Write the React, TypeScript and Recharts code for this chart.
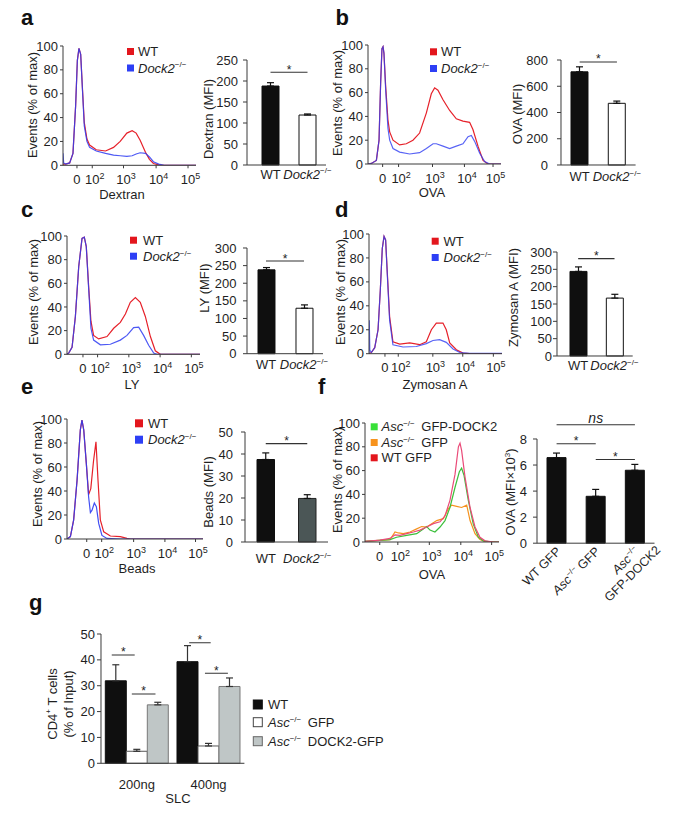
import React from 'react';
import { LineChart, Line, XAxis, YAxis, BarChart, Bar, ErrorBar, ReferenceLine, ReferenceDot, Cell } from 'recharts';

type Part = { t: string; i?: boolean; sup?: boolean };
type Plot = { x0: number; y0: number; x1: number; y1: number };

const FONT = '"Liberation Sans", Arial, Helvetica, sans-serif';
const INK = '#1f1f1f';
const AXIS = '#3a3a3a';

// ---------------- text fragments ----------------
const WT_P: Part[] = [{ t: 'WT' }];
const DOCK2_P: Part[] = [{ t: 'Dock2', i: true }, { t: '\u2212/\u2212', sup: true }];
const ASC_P: Part[] = [{ t: 'Asc', i: true }, { t: '\u2212/\u2212', sup: true }];

// ---------------- histogram data (x = position along biexponential axis, 0-100) ----------------
const logTickLabels = ['0', '10^2', '10^3', '10^4', '10^5'];
const eventTicks = [0, 20, 40, 60, 80, 100];

// (a) Dextran
const dextranTicks = [10.5, 22, 45.5, 70, 94];
const dextranChannel = [0, 0.5, 2, 5, 7.5, 9.5, 10.8, 12, 13.3, 14.5, 16, 18, 20, 25, 32, 38, 43, 48, 52, 55, 58, 62, 65, 68, 72, 76, 100];
const dextranWT = [1, 1, 1, 2, 10, 50, 88, 98, 93, 67, 36, 22, 17, 13, 12, 15, 20, 27, 29, 27, 21, 11, 5, 1.5, 0.3, 0, 0];
const dextranKO = [10, 2, 1, 2, 10, 50, 88, 98, 93, 66, 33, 20, 15, 12, 10, 8.5, 8, 7.5, 8, 9.5, 10.5, 10, 7, 3, 1, 0, 0];

// (b) OVA
const ovaTicks = [11, 23, 48.5, 72.5, 94];
const ovaWTX = [0, 2.5, 6.3, 8.3, 9.5, 10.5, 11.3, 12, 13.3, 15, 16.3, 18.8, 23.8, 28.8, 33.8, 38.8, 43.9, 47.6, 50.1, 52.6, 56.4, 61.4, 66.4, 71.4, 76.4, 78.9, 82.7, 86.5, 90.2, 100];
const ovaWTY = [0, 0.5, 3, 20, 68, 97, 98.6, 93, 65, 37, 27, 20, 16, 17, 20, 26, 43, 59, 64, 62, 54, 45, 38, 36, 35, 29, 15, 3, 0, 0];
const ovaKOX = [0, 2.5, 6.3, 8.3, 9.5, 10.5, 11.3, 12, 13.3, 15, 16.3, 18.8, 23.8, 31.3, 38.8, 43.9, 48.9, 51.4, 56.4, 61.4, 66.4, 71.4, 75.2, 77.7, 80.2, 84, 87.7, 91.5, 100];
const ovaKOY = [0, 0.5, 3, 20, 68, 97, 98.6, 93, 62, 30, 20, 13, 10, 8.4, 9.5, 13, 17, 17, 15, 13, 15, 17, 23, 24, 19, 9, 2, 0, 0];

// (c) LY
const lyTicks = [12, 23, 46.5, 70, 93.5];
const lyWTX = [0, 1.25, 3.8, 6.3, 8.8, 11.3, 13, 14.5, 16.3, 18, 20, 23.8, 30.1, 35.1, 40.1, 43.9, 47.6, 51.4, 55.1, 58.9, 62.7, 66.4, 70.2, 100];
const lyWTY = [0, 1, 6, 32, 74, 98, 99, 91, 57, 28, 16, 13, 15, 22, 27, 34, 44, 48, 44, 32, 15, 3, 0, 0];
const lyKOX = [0, 1.25, 3.8, 6.3, 8.8, 11.3, 13, 14.5, 16.3, 18, 20, 25.1, 32.6, 40.1, 45.1, 50.1, 53.9, 57.6, 61.4, 65.2, 67.7, 100];
const lyKOY = [0, 1, 6, 32, 74, 98, 99, 91, 55, 22, 12, 8, 8.5, 12, 16, 22.5, 23, 16, 7.6, 1, 0, 0];

// (d) Zymosan A
const zymTicks = [12, 22, 48, 70.5, 93.5];
const zymWTX = [0, 1.75, 4.3, 6.8, 8.5, 10, 11.3, 12.5, 13.8, 15.5, 18, 23.1, 30.6, 38.1, 43.1, 46.9, 50.6, 55.6, 58.1, 60.7, 65.7, 70.7, 75.7, 100];
const zymWTY = [0, 1, 5, 20, 53, 88, 98, 95, 67, 31, 10, 8, 9, 7.5, 10, 20, 25.6, 25.6, 20, 9, 3.3, 0.5, 0, 0];
const zymKOX = [0, 0.2, 0.6, 1.75, 4.3, 6.8, 8.5, 10, 11.3, 12.5, 13.8, 15.5, 18, 25.6, 35.6, 43.1, 48.1, 53.1, 58.1, 63.2, 68.2, 75.7, 100];
const zymKOY = [0, 28, 3, 1, 5, 20, 53, 88, 98, 95, 65, 28, 7.5, 5.6, 6, 8.4, 11, 11.7, 9.5, 3.9, 1, 0.3, 0.3];

// (e) Beads
const beadsTicks = [14.5, 25.5, 49, 72, 94.5];
const beadsWTX = [0, 2.5, 4.9, 7.4, 9.8, 11, 12.3, 14.2, 15.9, 17.5, 19.5, 21.3, 22.8, 24.5, 27, 31.9, 39.2, 44.1, 46.6, 100];
const beadsWTY = [0, 2, 16, 49, 91, 99, 91, 63, 37, 42, 65, 81, 49, 16, 6, 2.5, 2, 0.5, 0, 0];
const beadsKOX = [0, 2.5, 4.9, 7.4, 9.8, 11, 12.3, 14.2, 15.9, 17.2, 18.4, 20.1, 21.6, 23.3, 25.7, 29.4, 39.2, 100];
const beadsKOY = [0, 2, 16, 49, 91, 99, 91, 63, 35, 22, 24, 30, 27, 13, 3, 0.5, 0, 0];

// (f) OVA, Asc-/- rescue
const ascTicks = [11, 24.5, 48, 71.5, 94.5];
const ascWtGfpX = [0, 11.2, 18.7, 22.4, 26.1, 31.1, 36.1, 41, 46, 51, 56, 59.7, 63.4, 67.2, 69.7, 70.9, 72.1, 74.6, 78.4, 82.1, 85.8, 89.6, 95.8, 100];
const ascWtGfpY = [0.5, 1.5, 3, 6, 5.6, 7, 8.4, 10, 12.6, 15.4, 17, 22, 35, 57, 80, 83, 77, 55, 29, 12.6, 4, 1, 0, 0];
const ascDock2X = [0, 18.7, 23.6, 31.1, 38.6, 43.5, 46, 48.5, 52.2, 56, 59.7, 63.4, 67.2, 70.4, 72.1, 73.9, 77.1, 80.8, 84.6, 88.3, 95, 100];
const ascDock2Y = [0.5, 2, 4, 5.6, 7, 11, 13, 10, 8.4, 12.6, 18, 29, 46, 59, 62, 56, 35, 15, 4, 1, 0, 0];
const ascGfpX = [0, 18.7, 22.4, 24.9, 28.6, 33.6, 38.6, 42.3, 46, 49.8, 53.5, 58.5, 62.2, 64.7, 68.4, 72.1, 75.9, 78.4, 82.1, 85.8, 89.6, 100];
const ascGfpY = [0.5, 2, 8.4, 7.6, 7, 8.4, 11, 13, 12.6, 15.4, 18, 19.6, 28, 31, 30, 29, 31, 18, 7, 2, 0.3, 0];

// ---------------- bar data ----------------
const mfiCats = ['WT', 'Dock2'];
const dextranMfi = [188, 119];
const dextranErr = [8, 2.5];
const ovaMfi = [710, 470];
const ovaErr = [38, 17];
const lyMfi = [238, 129];
const lyErr = [6.5, 9.5];
const zymMfi = [244, 167];
const zymErr = [13, 11];
const beadsMfi = [37.5, 19.8];
const beadsErr = [3, 1.7];

const ascCats = ['WT GFP', 'Asc GFP', 'Asc GFP-DOCK2'];
const ascOvaMfi = [6.57, 3.6, 5.6];
const ascOvaErr = [0.35, 0.53, 0.45];

const slcDoses = ['200ng', '400ng'];
const slcWT = [31.9, 39.3];
const slcWTErr = [6.2, 6.2];
const slcAscGfp = [4.65, 6.7];
const slcAscGfpErr = [0.75, 1.0];
const slcAscDock2 = [22.6, 29.7];
const slcAscDock2Err = [1.0, 3.3];

// significance annotations (y in data units)
const dextranSig = [{ from: 'WT', to: 'Dock2', y: 221, label: '*' }];
const ovaSig = [{ from: 'WT', to: 'Dock2', y: 785, label: '*' }];
const lySig = [{ from: 'WT', to: 'Dock2', y: 263, label: '*' }];
const zymSig = [{ from: 'WT', to: 'Dock2', y: 281, label: '*' }];
const beadsSig = [{ from: 'WT', to: 'Dock2', y: 44.7, label: '*' }];
const ascSig = [
  { from: 'WT GFP', to: 'Asc GFP-DOCK2', y: 9.09, label: 'ns' },
  { from: 'WT GFP', to: 'Asc GFP', y: 7.63, label: '*' },
  { from: 'Asc GFP', to: 'Asc GFP-DOCK2', y: 6.43, label: '*' },
];
// x in dose-group units (group i spans i..i+1)
const slcSig = [
  { from: 0.15, to: 0.47, y: 41.9, label: '*' },
  { from: 0.43, to: 0.76, y: 26.8, label: '*' },
  { from: 1.23, to: 1.53, y: 46.6, label: '*' },
  { from: 1.45, to: 1.77, y: 34.8, label: '*' },
];

// ---------------- styles ----------------
const RED = '#e6212a';
const BLUE = '#2e3cf2';
const GREEN = '#3cbf3c';
const ORANGE = '#f5921e';
const PINK = '#ea4a78';
const LEG_RED = '#e3161d';
const LEG_BLUE = '#2d3ff5';
const LEG_GREEN = '#38e038';
const LEG_ORANGE = '#f7931e';

const LOOK_DOCK: Record<string, { fill: string; stroke: string }> = {
  WT: { fill: '#0f0f0f', stroke: '#0f0f0f' },
  Dock2: { fill: '#ffffff', stroke: '#111111' },
};
const LOOK_BEADS: Record<string, { fill: string; stroke: string }> = {
  WT: { fill: '#0f0f0f', stroke: '#0f0f0f' },
  Dock2: { fill: '#4b5656', stroke: '#222222' },
};
const LOOK_ASC: Record<string, { fill: string; stroke: string }> = {
  'WT GFP': { fill: '#0f0f0f', stroke: '#0f0f0f' },
  'Asc GFP': { fill: '#0f0f0f', stroke: '#0f0f0f' },
  'Asc GFP-DOCK2': { fill: '#0f0f0f', stroke: '#0f0f0f' },
};

const CAT_LABELS: Record<string, Part[]> = { WT: WT_P, Dock2: DOCK2_P };
const ROT_LABELS: Record<string, Part[][]> = {
  'WT GFP': [[{ t: 'WT GFP' }]],
  'Asc GFP': [[...ASC_P, { t: ' GFP' }]],
  'Asc GFP-DOCK2': [ASC_P, [{ t: 'GFP-DOCK2' }]],
};

const pts = (xs: number[], ys: number[]) => xs.map((u, i) => ({ u, v: ys[i] }));

// ---------------- helpers ----------------
function Rich({ parts, size }: { parts: Part[]; size: number }) {
  let raised = false;
  const out: React.ReactNode[] = [];
  parts.forEach((p, k) => {
    let dy: number | undefined;
    if (p.sup && !raised) {
      dy = -size * 0.4;
      raised = true;
    } else if (!p.sup && raised) {
      dy = size * 0.4;
      raised = false;
    }
    out.push(
      <tspan key={k} dy={dy} fontStyle={p.i ? 'italic' : undefined} fontSize={p.sup ? size * 0.62 : undefined}>
        {p.t}
      </tspan>
    );
  });
  return <>{out}</>;
}

const YW = 44;
function frame(p: Plot, top: number, right: number, xh: number) {
  return {
    left: p.x0 - YW,
    top: p.y0 - top,
    width: YW + (p.x1 - p.x0) + right,
    height: top + (p.y1 - p.y0) + xh,
    margin: { top, right, bottom: 0, left: 0 },
  };
}

function LogTick(props: any) {
  const { x, y, payload, tickPos, tickLabels } = props;
  const idx = (tickPos as number[]).indexOf(payload.value);
  const lab: string = tickLabels[idx] ?? '';
  const base = y + 8.8;
  if (!lab.includes('^')) {
    return (
      <text x={x} y={base} textAnchor="middle" fontSize={13} fill={INK}>
        {lab}
      </text>
    );
  }
  const [b, e] = lab.split('^');
  return (
    <text x={x - 7.2} y={base} fontSize={13} fill={INK}>
      {b}
      <tspan dy={-5} fontSize={9}>
        {e}
      </tspan>
    </text>
  );
}

function CatTick(props: any) {
  const { x, y, payload } = props;
  const parts = CAT_LABELS[payload.value] ?? [{ t: String(payload.value) }];
  return (
    <text x={x} y={y + 9.5} textAnchor="middle" fontSize={13} fill={INK}>
      <Rich parts={parts} size={13} />
    </text>
  );
}

function RotTick(props: any) {
  const { x, y, payload } = props;
  const lines = ROT_LABELS[payload.value] ?? [[{ t: String(payload.value) }]];
  return (
    <g transform={`translate(${x + 5},${y}) rotate(-45)`}>
      {lines.map((parts, k) => (
        <text key={k} x={k ? 16 : 0} y={k * 14} textAnchor="end" fontSize={12.5} fill={INK}>
          <Rich parts={parts} size={12.5} />
        </text>
      ))}
    </g>
  );
}

function SlcTick(props: any) {
  const { x, y, payload } = props;
  return (
    <text x={x} y={y + 9.5} textAnchor="middle" fontSize={13} fill={INK}>
      {payload.value}
    </text>
  );
}

function sigLabel(text: string) {
  const star = text === '*';
  return {
    content: (p: any) => {
      const vb = p.viewBox || {};
      const cx = (vb.x ?? 0) + (vb.width ?? 0) / 2;
      const yy = vb.y ?? 0;
      return (
        <text
          x={cx}
          y={star ? yy + 1.5 : yy - 1.5}
          textAnchor="middle"
          fontSize={star ? 12 : 14}
          fontStyle={star ? 'normal' : 'italic'}
          fill={INK}
        >
          {text}
        </text>
      );
    },
  };
}

type Series = { data: { u: number; v: number }[]; color: string; opacity?: number };

function Histogram({ plot, ticks, series }: { plot: Plot; ticks: number[]; series: Series[] }) {
  const f = frame(plot, 12, 10, 32);
  return (
    <div style={{ position: 'absolute', left: f.left, top: f.top }}>
      <LineChart width={f.width} height={f.height} margin={f.margin}>
        <XAxis
          type="number"
          dataKey="u"
          domain={[0, 100]}
          ticks={ticks}
          interval={0}
          allowDataOverflow
          height={32}
          stroke={AXIS}
          tickSize={3}
          tickMargin={7}
          tick={<LogTick tickPos={ticks} tickLabels={logTickLabels} />}
        />
        <YAxis
          type="number"
          domain={[0, 100]}
          ticks={eventTicks}
          interval={0}
          allowDataOverflow
          width={YW}
          stroke={AXIS}
          tickSize={3}
          tickMargin={2}
          tick={{ fontSize: 13, fill: INK }}
        />
        {series.map((s, k) => (
          <Line
            key={k}
            data={s.data}
            dataKey="v"
            type="linear"
            stroke={s.color}
            strokeOpacity={s.opacity ?? 1}
            strokeWidth={1.2}
            dot={false}
            activeDot={false}
            isAnimationActive={false}
          />
        ))}
      </LineChart>
    </div>
  );
}

function MfiChart(props: {
  plot: Plot;
  cats: string[];
  values: number[];
  errs: number[];
  yMax: number;
  yStep: number;
  sig: { from: string; to: string; y: number; label: string }[];
  look: Record<string, { fill: string; stroke: string }>;
  tickGap: number;
  yMargin: number;
  padLeft?: number;
  barSize?: number;
  xh?: number;
  top?: number;
  rotate?: boolean;
}) {
  const { plot, cats, values, errs, yMax, yStep, sig, look, tickGap, yMargin } = props;
  const padLeft = props.padLeft ?? 0;
  const barSize = props.barSize ?? 17;
  const xh = props.xh ?? 30;
  const top = props.top ?? 14;
  const data = cats.map((c, i) => ({ name: c, v: values[i], e: [0, errs[i]] }));
  const yt: number[] = [];
  for (let k = 0; k * yStep <= yMax + 1e-9; k++) yt.push(+(k * yStep).toFixed(4));
  const f = frame(plot, top, 8, xh);
  return (
    <div style={{ position: 'absolute', left: f.left, top: f.top }}>
      <BarChart width={f.width} height={f.height} margin={f.margin} data={data}>
        <XAxis
          dataKey="name"
          interval={0}
          tickLine={false}
          tickSize={0}
          tickMargin={tickGap}
          stroke={AXIS}
          padding={{ left: padLeft, right: 0 }}
          height={xh}
          tick={props.rotate ? <RotTick /> : <CatTick />}
        />
        <YAxis
          type="number"
          domain={[0, yMax]}
          ticks={yt}
          interval={0}
          width={YW}
          stroke={AXIS}
          tickSize={4}
          tickMargin={yMargin}
          tick={{ fontSize: 13, fill: INK }}
        />
        <Bar dataKey="v" barSize={barSize} isAnimationActive={false} strokeWidth={1}>
          {cats.map((c, i) => (
            <Cell key={i} fill={look[c].fill} stroke={look[c].stroke} />
          ))}
          <ErrorBar dataKey="e" width={3.5} stroke="#111" strokeWidth={1.2} direction="y" />
        </Bar>
        {sig.map((s, k) => (
          <ReferenceLine
            key={k}
            segment={[
              { x: s.from, y: s.y },
              { x: s.to, y: s.y },
            ]}
            stroke="#333"
            strokeWidth={1.1}
            ifOverflow="visible"
            label={sigLabel(s.label)}
          />
        ))}
      </BarChart>
    </div>
  );
}

const SLC_TOP = 14;
const SLC_XH = 30;

function SlcChart({ plot }: { plot: Plot }) {
  const data = slcDoses.map((d, i) => ({
    name: d,
    wt: slcWT[i],
    wtE: [0, slcWTErr[i]],
    gfp: slcAscGfp[i],
    gfpE: [0, slcAscGfpErr[i]],
    dock: slcAscDock2[i],
    dockE: [0, slcAscDock2Err[i]],
  }));
  const f = frame(plot, SLC_TOP, 8, SLC_XH);
  return (
    <div style={{ position: 'absolute', left: f.left, top: f.top }}>
      <BarChart width={f.width} height={f.height} margin={f.margin} data={data} barCategoryGap="6%" barGap={0}>
        <XAxis dataKey="name" interval={0} tickLine={false} tickSize={0} tickMargin={16} stroke={AXIS} height={SLC_XH} tick={<SlcTick />} />
        <YAxis
          type="number"
          domain={[0, 50]}
          ticks={[0, 10, 20, 30, 40, 50]}
          interval={0}
          width={YW}
          stroke={AXIS}
          tickSize={4}
          tickMargin={2}
          tick={{ fontSize: 13, fill: INK }}
        />
        <Bar dataKey="wt" fill="#0f0f0f" stroke="#0f0f0f" strokeWidth={1} isAnimationActive={false}>
          <ErrorBar dataKey="wtE" width={3.5} stroke="#333" strokeWidth={1.2} direction="y" />
        </Bar>
        <Bar dataKey="gfp" fill="#ffffff" stroke="#555" strokeWidth={1} isAnimationActive={false}>
          <ErrorBar dataKey="gfpE" width={3.5} stroke="#333" strokeWidth={1.2} direction="y" />
        </Bar>
        <Bar dataKey="dock" fill="#bfc6c6" stroke="#777" strokeWidth={1} isAnimationActive={false}>
          <ErrorBar dataKey="dockE" width={3.5} stroke="#333" strokeWidth={1.2} direction="y" />
        </Bar>
      </BarChart>
    </div>
  );
}

// significance brackets for (g), drawn on a numeric overlay with the same plot box
function SlcSig({ plot }: { plot: Plot }) {
  const f = frame(plot, SLC_TOP, 8, SLC_XH);
  return (
    <div style={{ position: 'absolute', left: f.left, top: f.top }}>
      <LineChart width={f.width} height={f.height} margin={f.margin}>
        <XAxis type="number" dataKey="x" domain={[0, 2]} allowDataOverflow height={SLC_XH} axisLine={false} tickLine={false} tick={false} />
        <YAxis type="number" domain={[0, 50]} allowDataOverflow width={YW} axisLine={false} tickLine={false} tick={false} />
        {slcSig.map((s, k) => (
          <Line
            key={k}
            data={[
              { x: s.from, y: s.y },
              { x: s.to, y: s.y },
            ]}
            dataKey="y"
            stroke="#333"
            strokeWidth={1.1}
            dot={false}
            activeDot={false}
            isAnimationActive={false}
          />
        ))}
        {slcSig.map((s, k) => (
          <ReferenceDot key={`d${k}`} x={(s.from + s.to) / 2} y={s.y} r={0} fill="none" stroke="none" label={sigLabel(s.label)} />
        ))}
      </LineChart>
    </div>
  );
}

// ---------------- overlay text ----------------
function Letter({ x, y, c }: { x: number; y: number; c: string }) {
  return (
    <text x={x} y={y} fontSize={22} fontWeight={700} fill="#111">
      {c}
    </text>
  );
}
function Title({ x, y, children }: { x: number; y: number; children: React.ReactNode }) {
  return (
    <text x={x} y={y} fontSize={13} textAnchor="middle" fill={INK}>
      {children}
    </text>
  );
}
function VTitle({ cx, cy, children }: { cx: number; cy: number; children: React.ReactNode }) {
  return (
    <text transform={`translate(${cx + 4.6},${cy}) rotate(-90)`} fontSize={13} textAnchor="middle" fill={INK}>
      {children}
    </text>
  );
}
type LegItem = { parts: Part[]; fill: string; stroke?: string };
function Legend2({ x, ys, tx, box, items }: { x: number; ys: number[]; tx: number; box: number; items: LegItem[] }) {
  return (
    <g>
      {items.map((it, k) => (
        <g key={k}>
          <rect x={x} y={ys[k]} width={box} height={box} fill={it.fill} stroke={it.stroke ?? 'none'} strokeWidth={it.stroke ? 1 : 0} />
          <text x={tx} y={ys[k] + box / 2 + 4.6} fontSize={13} fill={INK}>
            <Rich parts={it.parts} size={13} />
          </text>
        </g>
      ))}
    </g>
  );
}

const dockLegend: LegItem[] = [
  { parts: WT_P, fill: LEG_RED },
  { parts: DOCK2_P, fill: LEG_BLUE },
];
const ascLegend: LegItem[] = [
  { parts: [...ASC_P, { t: '\u2002GFP-DOCK2' }], fill: LEG_GREEN },
  { parts: [...ASC_P, { t: '\u2002GFP' }], fill: LEG_ORANGE },
  { parts: [{ t: 'WT GFP' }], fill: LEG_RED },
];
const slcLegend: LegItem[] = [
  { parts: WT_P, fill: '#0f0f0f', stroke: '#0f0f0f' },
  { parts: [...ASC_P, { t: '\u2002GFP' }], fill: '#ffffff', stroke: '#444' },
  { parts: [...ASC_P, { t: '\u2002DOCK2-GFP' }], fill: '#bfc6c6', stroke: '#666' },
];

export default function App() {
  const slcPlot = { x0: 101, y0: 634, x1: 244.4, y1: 763.3 };
  return (
    <div
      style={{
        position: 'absolute',
        left: 0,
        top: 0,
        width: 676,
        height: 815,
        background: '#ffffff',
        fontFamily: FONT,
        overflow: 'hidden',
      }}
    >
      {/* a */}
      <Histogram
        plot={{ x0: 63.3, y0: 45.7, x1: 196.3, y1: 165 }}
        ticks={dextranTicks}
        series={[
          { data: pts(dextranChannel, dextranWT), color: RED },
          { data: pts(dextranChannel, dextranKO), color: BLUE, opacity: 0.85 },
        ]}
      />
      <MfiChart plot={{ x0: 247, y0: 60, x1: 326, y1: 165 }} cats={mfiCats} values={dextranMfi} errs={dextranErr} yMax={250} yStep={50} sig={dextranSig} look={LOOK_DOCK} tickGap={4} yMargin={5} padLeft={5} />
      {/* b */}
      <Histogram
        plot={{ x0: 368.3, y0: 45, x1: 501.3, y1: 164 }}
        ticks={ovaTicks}
        series={[
          { data: pts(ovaWTX, ovaWTY), color: RED },
          { data: pts(ovaKOX, ovaKOY), color: BLUE, opacity: 0.8 },
        ]}
      />
      <MfiChart plot={{ x0: 561, y0: 60, x1: 635.6, y1: 165 }} cats={mfiCats} values={ovaMfi} errs={ovaErr} yMax={800} yStep={200} sig={ovaSig} look={LOOK_DOCK} tickGap={6.5} yMargin={9} />
      {/* c */}
      <Histogram
        plot={{ x0: 66.7, y0: 235.7, x1: 199.7, y1: 354 }}
        ticks={lyTicks}
        series={[
          { data: pts(lyWTX, lyWTY), color: RED },
          { data: pts(lyKOX, lyKOY), color: BLUE, opacity: 0.85 },
        ]}
      />
      <MfiChart plot={{ x0: 247, y0: 248.3, x1: 323, y1: 354 }} cats={mfiCats} values={lyMfi} errs={lyErr} yMax={300} yStep={50} sig={lySig} look={LOOK_DOCK} tickGap={6} yMargin={6.5} />
      {/* d */}
      <Histogram
        plot={{ x0: 369.3, y0: 234.3, x1: 502.3, y1: 354 }}
        ticks={zymTicks}
        series={[
          { data: pts(zymWTX, zymWTY), color: RED },
          { data: pts(zymKOX, zymKOY), color: BLUE, opacity: 0.8 },
        ]}
      />
      <MfiChart plot={{ x0: 557.3, y0: 251.7, x1: 633, y1: 355.7 }} cats={mfiCats} values={zymMfi} errs={zymErr} yMax={300} yStep={50} sig={zymSig} look={LOOK_DOCK} tickGap={4.5} yMargin={1} padLeft={3} />
      {/* e */}
      <Histogram
        plot={{ x0: 66.7, y0: 419, x1: 202.7, y1: 539 }}
        ticks={beadsTicks}
        series={[
          { data: pts(beadsWTX, beadsWTY), color: RED },
          { data: pts(beadsKOX, beadsKOY), color: BLUE, opacity: 0.9 },
        ]}
      />
      <MfiChart plot={{ x0: 245, y0: 431.7, x1: 328, y1: 541.7 }} cats={mfiCats} values={beadsMfi} errs={beadsErr} yMax={50} yStep={10} sig={beadsSig} look={LOOK_BEADS} tickGap={11.5} yMargin={8} barSize={17.5} />
      {/* f */}
      <Histogram
        plot={{ x0: 365, y0: 422.7, x1: 499, y1: 541.7 }}
        ticks={ascTicks}
        series={[
          { data: pts(ascGfpX, ascGfpY), color: ORANGE },
          { data: pts(ascDock2X, ascDock2Y), color: GREEN },
          { data: pts(ascWtGfpX, ascWtGfpY), color: PINK },
        ]}
      />
      <MfiChart plot={{ x0: 537, y0: 438.5, x1: 654.5, y1: 542.7 }} cats={ascCats} values={ascOvaMfi} errs={ascOvaErr} yMax={8} yStep={2} sig={ascSig} look={LOOK_ASC} tickGap={9} yMargin={6} barSize={19} xh={62} top={30} rotate />
      {/* g */}
      <SlcChart plot={slcPlot} />
      <SlcSig plot={slcPlot} />

      <svg style={{ position: 'absolute', left: 0, top: 0 }} width={676} height={815}>
        <Letter x={21} y={25} c="a" />
        <Letter x={335.5} y={25} c="b" />
        <Letter x={21} y={216.5} c="c" />
        <Letter x={335} y={216.5} c="d" />
        <Letter x={21} y={393.5} c="e" />
        <Letter x={318} y={394} c="f" />
        <Letter x={29} y={609.5} c="g" />

        <Title x={122} y={198.6}>Dextran</Title>
        <Title x={432} y={197}>OVA</Title>
        <Title x={132} y={389}>LY</Title>
        <Title x={435} y={388.6}>Zymosan A</Title>
        <Title x={137} y={573}>Beads</Title>
        <Title x={432} y={578.6}>OVA</Title>
        <Title x={178} y={803}>SLC</Title>

        <VTitle cx={32} cy={105}>Events (% of max)</VTitle>
        <VTitle cx={208} cy={119}>Dextran (MFI)</VTitle>
        <VTitle cx={337} cy={103}>Events (% of max)</VTitle>
        <VTitle cx={517} cy={114}>OVA (MFI)</VTitle>
        <VTitle cx={33} cy={292}>Events (% of max)</VTitle>
        <VTitle cx={204.3} cy={288}>LY (MFI)</VTitle>
        <VTitle cx={340} cy={292}>Events (% of max)</VTitle>
        <VTitle cx={513.3} cy={297.5}>Zymosan A (MFI)</VTitle>
        <VTitle cx={37} cy={474}>Events (% of max)</VTitle>
        <VTitle cx={208.3} cy={492}>Beads (MFI)</VTitle>
        <VTitle cx={337} cy={480}>Events (% of max)</VTitle>
        <VTitle cx={510.5} cy={492}>
          <Rich parts={[{ t: 'OVA (MFI\u00d710' }, { t: '3', sup: true }, { t: ')' }]} size={13} />
        </VTitle>
        <VTitle cx={52} cy={704}>
          <Rich parts={[{ t: 'CD4' }, { t: '+', sup: true }, { t: ' T cells' }]} size={13} />
        </VTitle>
        <VTitle cx={68.5} cy={704}>(% of Input)</VTitle>

        <Legend2 x={127} ys={[48, 64.5]} tx={138} box={7} items={dockLegend} />
        <Legend2 x={430} ys={[48.3, 65]} tx={441} box={7} items={dockLegend} />
        <Legend2 x={130} ys={[236.7, 252.7]} tx={143} box={7} items={dockLegend} />
        <Legend2 x={431.7} ys={[237.7, 254]} tx={443.5} box={7} items={dockLegend} />
        <Legend2 x={135} ys={[419.3, 435.7]} tx={148} box={8} items={dockLegend} />
        <Legend2 x={370.7} ys={[423.3, 439, 454.3]} tx={381.5} box={7} items={ascLegend} />
        <Legend2 x={253.3} ys={[700, 717.7, 736.7]} tx={268} box={9} items={slcLegend} />
      </svg>
    </div>
  );
}
